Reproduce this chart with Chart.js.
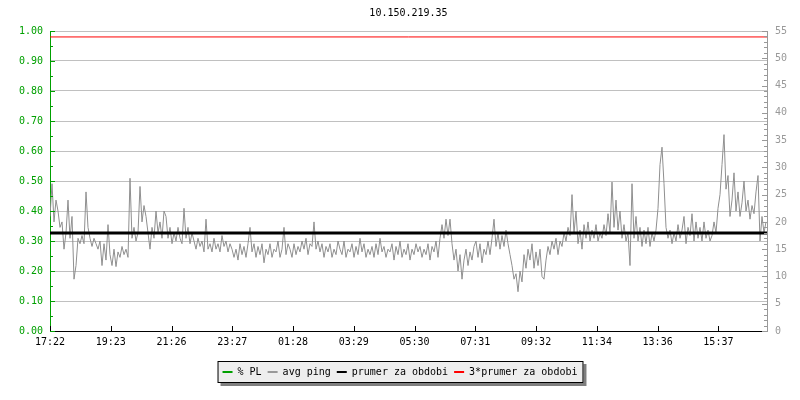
<!DOCTYPE html>
<html>
<head>
<meta charset="utf-8">
<script src="https://cdn.jsdelivr.net/npm/chart.js@4/dist/chart.umd.min.js"></script>
<style>
  html, body { margin: 0; padding: 0; background: #fff; }
  #wrap { width: 800px; height: 400px; }
</style>
</head>
<body>
<div id="wrap"><canvas id="myChart" width="800" height="400"></canvas></div>
<script>
// smokeping style graph - 10.150.219.35

const chartTitle = '10.150.219.35';
const timeLabels = ['17:22', '19:23', '21:26', '23:27', '01:28', '03:29', '05:30', '07:31', '09:32', '11:34', '13:36', '15:37'];
const legendNames = ['% PL', 'avg ping', 'prumer za obdobi', '3*prumer za obdobi'];

// avg ping [ms], one sample per ~4 min
const avgPing = [
  21, 27, 20, 24, 22, 19, 20, 15, 18, 24, 17, 21, 9.5, 12, 17, 16, 17.5, 16, 25.5, 19,
  17, 15.5, 17, 16, 15, 16.5, 12, 16, 13, 19.5, 14, 12, 15, 11.8, 14.5, 13.5, 15.5, 14, 15, 13.5,
  28, 17, 19, 16.5, 18, 26.5, 20, 23, 21, 18, 15, 19, 17, 22, 18, 20, 17, 22, 21, 17,
  19, 16, 18, 16.5, 19, 17, 16, 22.5, 17, 19, 16, 18, 16.5, 15, 17, 15.5, 16.5, 14.5, 20.5, 15,
  16, 14.5, 17, 15, 16, 14.5, 17.5, 15.5, 16.5, 14.5, 16, 15, 13.5, 15, 13, 16, 14, 15.5, 13.5, 16,
  19, 14.5, 16, 13.5, 15.5, 14, 16, 12.5, 15, 14, 16, 13.5, 15, 14.5, 16.5, 13.5, 15, 19, 14, 16,
  15, 13.5, 16, 14, 15.5, 14.5, 16.5, 15, 17, 14, 16, 15.5, 20, 15, 16.5, 14.5, 16, 13.5, 15.5, 14.5,
  16, 13.5, 15, 14, 16.5, 15, 14, 16.5, 13.5, 15, 14.5, 16, 13.5, 15.5, 14, 17, 14.5, 16, 13.5, 15,
  14, 15.5, 13.5, 16, 14, 17, 14.5, 15.5, 13.5, 15, 14.5, 16, 13, 15.5, 14, 16.5, 13.5, 15, 14, 16,
  13, 15, 14, 16, 14.5, 15.5, 13.5, 15, 14, 16, 13, 15.5, 14.5, 16.5, 13.5, 17, 19.5, 17, 20.5, 17.5,
  20.5, 16, 13, 15, 11, 14, 9.5, 13, 15, 12, 14.5, 13, 15.5, 16.5, 13.5, 16, 12.5, 15, 14, 16.5,
  14, 17, 20.5, 15.5, 18, 15, 17.5, 15.5, 18.5, 16, 14, 12, 9.5, 10.5, 7.2, 11, 9, 14, 11.5, 15,
  13, 16, 11.5, 14.5, 12, 15, 10, 9.5, 13, 15.5, 14, 16.5, 15, 17, 14, 16.5, 15.5, 18, 16.5, 19,
  17.5, 25, 18, 22, 16, 18.5, 15, 19.5, 17, 20, 16.5, 18.5, 17, 19.5, 16.5, 18, 17, 19.5, 17.5, 21.5,
  18, 27.3, 19, 24, 18.5, 22, 17, 19.5, 16.5, 18, 12, 27, 17, 21, 16.5, 19, 15.5, 18.5, 16, 19,
  15.5, 18, 16.5, 18.5, 22.5, 30.5, 33.7, 27, 19, 17, 18.5, 16, 18, 16.5, 19.5, 17, 18.5, 21, 16, 19,
  17.5, 21.5, 16.5, 20, 17, 19, 16.5, 20, 17, 18.5, 16.5, 17.5, 20, 18, 22.5, 25, 30.5, 36, 26, 28.5,
  21, 24, 29, 22, 25.5, 21, 23.5, 27.5, 22, 24, 20.5, 23, 21.5, 25.5, 28.5, 16.5, 21, 18, 20
];
const meanPing = 17.97;
const packetLoss = [];

const xMax = avgPing.length - 0.5;
const tickStep = xMax / 11.8;
const tickPos = timeLabels.map((t, i) => i * tickStep);

const monoFont = { family: 'DejaVu Sans Mono', size: 10 };

const smokeDecor = {
  id: 'smokeDecor',
  beforeDraw(chart) {
    const lg = chart.legend;
    if (!lg || !lg.legendHitBoxes.length) return;
    const boxes = lg.legendHitBoxes;
    const l = Math.min(...boxes.map(b => b.left)) - 5;
    const r = Math.max(...boxes.map(b => b.left + b.width)) + 6;
    const t = Math.min(...boxes.map(b => b.top)) - 6;
    const b = Math.max(...boxes.map(b => b.top + b.height)) + 6;
    const c = chart.ctx;
    c.save();
    c.fillStyle = '#7f7f7f';
    c.fillRect(l + 3, t + 3, r - l, b - t);
    c.fillStyle = '#eeeeee';
    c.fillRect(l, t, r - l, b - t);
    c.strokeStyle = '#000';
    c.lineWidth = 1;
    c.strokeRect(l + 0.5, t + 0.5, r - l - 1, b - t - 1);
    c.restore();
  },
  afterDraw(chart) {
    const c = chart.ctx;
    const area = chart.chartArea;
    const yl = chart.scales.y;
    const yr = chart.scales.y2;
    const xs = chart.scales.x;
    c.save();
    c.lineWidth = 1;
    // left minor/major ticks (inward)
    c.strokeStyle = '#00a000';
    for (let k = 0; k <= 20; k++) {
      const py = Math.round(yl.getPixelForValue(k * 0.05)) + 0.5;
      const len = k % 2 === 0 ? 5 : 3;
      c.beginPath();
      c.moveTo(area.left, py);
      c.lineTo(area.left + len, py);
      c.stroke();
    }
    // right ticks
    c.strokeStyle = '#999999';
    for (let k = 0; k <= 55; k++) {
      const py = Math.round(yr.getPixelForValue(k)) + 0.5;
      const len = k % 5 === 0 ? 5 : 3;
      c.beginPath();
      c.moveTo(area.right, py);
      c.lineTo(area.right - len, py);
      c.stroke();
    }
    // bottom ticks
    c.strokeStyle = '#000';
    tickPos.forEach(v => {
      const px = Math.round(xs.getPixelForValue(v)) + 0.5;
      c.beginPath();
      c.moveTo(px, area.bottom);
      c.lineTo(px, area.bottom - 5);
      c.stroke();
    });
    // title
    c.fillStyle = '#000';
    c.font = '10px "DejaVu Sans Mono"';
    c.textAlign = 'center';
    c.textBaseline = 'middle';
    c.fillText(chartTitle, (area.left + area.right) / 2, 13);
    c.restore();
  }
};

const ctx = document.getElementById('myChart').getContext('2d');

window.myChart = new Chart(ctx, {
  type: 'line',
  data: {
    datasets: [
      {
        label: legendNames[0],
        data: packetLoss,
        yAxisID: 'y',
        borderColor: '#00a000',
        backgroundColor: '#00a000',
        order: 3
      },
      {
        label: legendNames[1],
        data: avgPing.map((v, i) => ({ x: i, y: v })),
        yAxisID: 'y2',
        borderColor: '#8f8f8f',
        backgroundColor: '#999999',
        borderWidth: 1,
        order: 2
      },
      {
        label: legendNames[2],
        data: [{ x: 0, y: meanPing }, { x: xMax, y: meanPing }],
        yAxisID: 'y2',
        borderColor: '#000000',
        backgroundColor: '#000000',
        borderWidth: 3,
        order: 0
      },
      {
        label: legendNames[3],
        data: [{ x: 0, y: meanPing * 3 }, { x: xMax, y: meanPing * 3 }],
        yAxisID: 'y2',
        borderColor: '#ff0000',
        backgroundColor: '#ff0000',
        borderWidth: 1,
        order: 1
      }
    ]
  },
  options: {
    responsive: false,
    animation: false,
    devicePixelRatio: 1,
    layout: { padding: { top: 31, bottom: 13, left: 0, right: 0 } },
    elements: { point: { radius: 0 }, line: { tension: 0 } },
    scales: {
      x: {
        type: 'linear',
        min: 0,
        max: xMax,
        afterBuildTicks: s => { s.ticks = tickPos.map(v => ({ value: v })); },
        afterFit: s => { s.height = 30; },
        grid: { display: false, drawTicks: false },
        border: { color: '#000', width: 1 },
        ticks: {
          autoSkip: false,
          maxRotation: 0,
          padding: 5,
          color: '#000',
          font: monoFont,
          callback: (v, i) => timeLabels[i]
        }
      },
      y: {
        position: 'left',
        min: 0,
        max: 1,
        afterFit: s => { s.width = 50; },
        grid: {
          drawTicks: false,
          color: c => (c.tick && c.tick.value === 0 ? 'rgba(0,0,0,0)' : '#c0c0c0')
        },
        border: { color: '#00a000', width: 1 },
        ticks: {
          stepSize: 0.1,
          padding: 7,
          color: '#00a000',
          font: monoFont,
          callback: v => v.toFixed(2)
        }
      },
      y2: {
        position: 'right',
        min: 0,
        max: 55,
        afterFit: s => { s.width = 33; },
        grid: { drawOnChartArea: false, drawTicks: false },
        border: { color: '#999999', width: 1 },
        ticks: {
          stepSize: 5,
          padding: 8,
          color: '#999999',
          font: monoFont
        }
      }
    },
    plugins: {
      tooltip: { enabled: false },
      title: { display: false },
      legend: {
        position: 'bottom',
        labels: {
          font: monoFont,
          color: '#000',
          boxWidth: 10,
          boxHeight: 2,
          padding: 6,
          sort: (a, b) => a.datasetIndex - b.datasetIndex,
          generateLabels: chart => chart.data.datasets.map((d, i) => ({
            text: d.label,
            fillStyle: i === 1 ? '#999999' : d.borderColor,
            strokeStyle: i === 1 ? '#999999' : d.borderColor,
            lineWidth: 0,
            hidden: false,
            datasetIndex: i
          }))
        }
      }
    }
  },
  plugins: [smokeDecor]
});
</script>
</body>
</html>
